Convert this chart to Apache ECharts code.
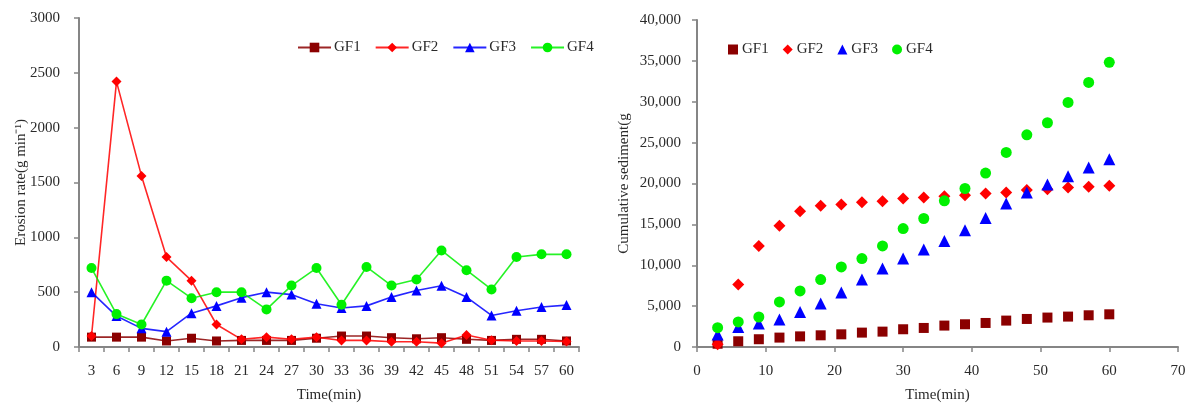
<!DOCTYPE html>
<html>
<head>
<meta charset="utf-8">
<script src="https://cdn.jsdelivr.net/npm/echarts@6/dist/echarts.min.js"></script>
<style>
html,body{margin:0;padding:0;background:#fff;}
#chart{width:1191px;height:403px;}
</style>
</head>
<body>
<div id="chart"></div>
<script>
// ---- Data ----
const timeLabels = ['3','6','9','12','15','18','21','24','27','30','33','36','39','42','45','48','51','54','57','60'];
const timeValues = [3,6,9,12,15,18,21,24,27,30,33,36,39,42,45,48,51,54,57,60];
const seriesNames = ['GF1','GF2','GF3','GF4'];

// Erosion rate (g min^-1)
const rateGF1 = [90,90,90,55,80,55,60,60,60,80,100,100,85,75,85,70,60,70,70,55];
const rateGF2 = [100,2420,1560,820,605,205,70,90,70,90,60,60,48,48,35,110,62,55,55,50];
const rateGF3 = [500,282,170,140,308,375,450,500,478,395,355,375,455,515,558,455,288,330,365,382];
const rateGF4 = [720,300,205,605,445,500,500,343,560,720,385,730,560,615,880,700,525,820,845,845];

// Cumulative sediment (g)
const cumGF1 = [400,700,950,1150,1300,1430,1550,1760,1880,2170,2330,2620,2780,2940,3230,3430,3600,3720,3880,4000];
const cumGF2 = [330,7640,12370,14820,16620,17270,17440,17720,17840,18170,18290,18450,18570,18780,18900,19190,19310,19520,19590,19710];
const cumGF3 = [1520,2450,2860,3350,4290,5310,6660,8250,9600,10820,11920,12980,14290,15790,17560,18900,19880,20900,21960,22980];
const cumGF4 = [2370,3060,3670,5510,6860,8250,9800,10820,12370,14490,15720,17880,19390,21270,23800,25960,27430,29920,32370,34820];

const rateTicks = [0,500,1000,1500,2000,2500,3000];
const cumTicks = [0,5000,10000,15000,20000,25000,30000,35000,40000];

// ---- Styles ----
const colors = ['#8B0000','#FF0000','#0000FF','#00F000'];
const symbols = ['rect','diamond','triangle','circle'];
const lineSymbolSize = [9,10,10,10];
const scatterSymbolSize = [10,12,12,11];
const FONT = '"Liberation Serif","Times New Roman",serif';
const axisLineStyle = {color:'#858585', width:2};
const labelStyle = {fontFamily:FONT, fontSize:15, color:'#2a2a2a'};
const nameStyle = {fontFamily:FONT, fontSize:15, color:'#2a2a2a'};

function fmtComma(v){ return String(v).replace(/\B(?=(\d{3})+(?!\d))/g, ','); }
function fmtPlain(v){ return String(v); }

const rateData = [rateGF1, rateGF2, rateGF3, rateGF4];
const cumData = [cumGF1, cumGF2, cumGF3, cumGF4];

const series = [];
seriesNames.forEach((n,i)=>{
  series.push({
    name: n, type:'line', xAxisIndex:0, yAxisIndex:0,
    data: rateData[i],
    symbol: symbols[i], symbolSize: lineSymbolSize[i],
    showAllSymbol: true,
    itemStyle:{color:colors[i]},
    lineStyle:{color:colors[i], width:1.6, opacity:0.85},
    emphasis:{disabled:true},
    animation:false
  });
});
seriesNames.forEach((n,i)=>{
  series.push({
    name: n + ' ', type:'scatter', xAxisIndex:1, yAxisIndex:1,
    data: timeValues.map((t,k)=>[t, cumData[i][k]]),
    symbol: symbols[i], symbolSize: scatterSymbolSize[i],
    itemStyle:{color:colors[i], opacity:1},
    emphasis:{disabled:true},
    animation:false
  });
});

const chart = echarts.init(document.getElementById('chart'), null, {renderer:'canvas'});
chart.setOption({
  backgroundColor:'#fff',
  animation:false,
  legend:[
    {
      data: seriesNames.map(n=>({name:n})),
      left: 292, top: 35,
      itemWidth: 33, itemHeight: 12, itemGap: 14,
      textStyle:{fontFamily:FONT, fontSize:15, color:'#2a2a2a', padding:[0,0,0,-2]},
      selectedMode:false
    },
    {
      data: seriesNames.map((n,i)=>({name:n+' ', icon: symbols[i]})),
      left: 723, top: 37,
      itemWidth: 10, itemHeight: 10, itemGap: 14,
      formatter: n => n.trim(),
      textStyle:{fontFamily:FONT, fontSize:15, color:'#2a2a2a', padding:[0,0,0,-1]},
      selectedMode:false
    }
  ],
  grid:[
    {left:79, top:18, width:500, height:329, containLabel:false, outerBoundsMode:'none'},
    {left:697, top:20, width:481, height:327, containLabel:false, outerBoundsMode:'none'}
  ],
  xAxis:[
    {
      gridIndex:0, type:'category', data: timeLabels, boundaryGap:true,
      name:'Time(min)', nameLocation:'middle', nameGap:41, nameTextStyle:nameStyle,
      axisLine:{lineStyle:axisLineStyle},
      axisTick:{show:true, alignWithLabel:false, interval:0, length:5, lineStyle:{color:'#858585', width:1.5}},
      axisLabel:Object.assign({interval:0, margin:17}, labelStyle),
      splitLine:{show:false}
    },
    {
      gridIndex:1, type:'value', min:0, max:70, interval:10,
      name:'Time(min)', nameLocation:'middle', nameGap:41, nameTextStyle:nameStyle,
      axisLine:{lineStyle:axisLineStyle},
      axisTick:{show:true, length:5, lineStyle:{color:'#858585', width:1.5}},
      axisLabel:Object.assign({margin:17}, labelStyle),
      splitLine:{show:false}
    }
  ],
  yAxis:[
    {
      gridIndex:0, type:'value', min:rateTicks[0], max:rateTicks[rateTicks.length-1], interval:500,
      name:'Erosion rate(g min\u207B\u00B9)', nameLocation:'middle', nameGap:50, nameMoveOverlap:false, nameTextStyle:nameStyle,
      axisLine:{show:true, lineStyle:axisLineStyle},
      axisTick:{show:true, length:5, lineStyle:{color:'#858585', width:1.5}},
      axisLabel:Object.assign({margin:19, formatter: fmtPlain}, labelStyle),
      splitLine:{show:false}
    },
    {
      gridIndex:1, type:'value', min:cumTicks[0], max:cumTicks[cumTicks.length-1], interval:5000,
      name:'Cumulative sediment(g', nameLocation:'middle', nameGap:65, nameMoveOverlap:false, nameTextStyle:nameStyle,
      axisLine:{show:true, lineStyle:axisLineStyle},
      axisTick:{show:true, length:5, lineStyle:{color:'#858585', width:1.5}},
      axisLabel:Object.assign({margin:16, formatter: fmtComma}, labelStyle),
      splitLine:{show:false}
    }
  ],
  series: series
});
</script>
</body>
</html>
